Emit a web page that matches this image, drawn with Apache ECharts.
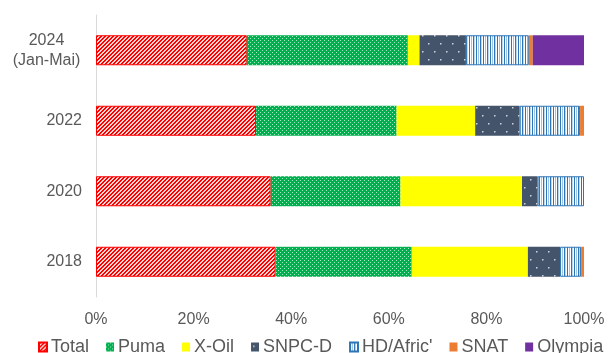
<!DOCTYPE html>
<html>
<head>
<meta charset="utf-8">
<script src="https://cdn.jsdelivr.net/npm/echarts@6/dist/echarts.min.js"></script>
<style>
  html, body { margin: 0; padding: 0; background: #fff; }
  #chart { width: 608px; height: 353px; }
</style>
</head>
<body>
<div id="chart"></div>
<script>
const years = ['2018', '2020', '2022', '2024'];
const seriesNames = ['Total', 'Puma', 'X-Oil', 'SNPC-D', "HD/Afric'", 'SNAT', 'Olympia'];
const total = [36.8, 35.8, 32.8, 30.9];
const puma = [27.9, 26.6, 28.8, 33.0];
const xoil = [23.8, 24.9, 16.1, 2.4];
const snpc = [6.6, 3.2, 9.1, 9.5];
const hdafric = [4.3, 9.5, 12.4, 12.9];
const snat = [0.6, 0, 0.8, 0.8];
const olympia = [0, 0, 0, 10.5];
const xTicks = [0, 20, 40, 60, 80, 100];

function makeTile(w, h, draw) {
  const c = document.createElement('canvas');
  c.width = w; c.height = h;
  const ctx = c.getContext('2d');
  draw(ctx);
  return { image: c, repeat: 'repeat' };
}

// red diagonal hatch
const hatchRed = makeTile(4, 4, ctx => {
  for (let x = 0; x < 4; x++) {
    for (let y = 0; y < 4; y++) {
      ctx.fillStyle = (x + y) % 4 < 2 ? '#ff0000' : '#ffd6d6';
      ctx.fillRect(x, y, 1, 1);
    }
  }
});
// green with light dots
const dotGreen = makeTile(4, 4, ctx => {
  ctx.fillStyle = '#00b050';
  ctx.fillRect(0, 0, 4, 4);
  ctx.fillStyle = '#a8e6c0';
  ctx.fillRect(0, 0, 1, 1);
  ctx.fillRect(2, 2, 1, 1);
});
// navy with sparse white dots
const dotNavy = makeTile(12, 16, ctx => {
  ctx.fillStyle = '#44546a';
  ctx.fillRect(0, 0, 12, 16);
  ctx.fillStyle = '#d0d6e0';
  ctx.fillRect(2, 3, 1.5, 1.5);
  ctx.fillRect(8, 11, 1.5, 1.5);
});
// vertical blue stripes
const stripeBlue = makeTile(7, 4, ctx => {
  const cols = ['#2e75b6', '#ffffff', '#9dc3e6', '#ffffff', '#2e75b6', '#bdd7ee', '#ffffff'];
  cols.forEach((col, i) => {
    ctx.fillStyle = col;
    ctx.fillRect(i, 0, 1, 4);
  });
});

const fills = [hatchRed, dotGreen, '#ffff00', dotNavy, stripeBlue, '#ed7d31', '#7030a0'];
const borders = ['#ff0000', null, null, null, '#2e75b6', null, null];
const values = [total, puma, xoil, snpc, hdafric, snat, olympia];

const chart = echarts.init(document.getElementById('chart'));
const option = {
  animation: false,
  grid: { left: 96, right: 24, top: 15, bottom: 56 },
  legend: {
    left: 33,
    top: 333,
    itemWidth: 8,
    itemHeight: 9,
    itemGap: 17,
    icon: 'rect',
    textStyle: { color: '#595959', fontSize: 18, fontFamily: 'Liberation Sans', padding: [0, 0, 0, -1] },
    data: seriesNames
  },
  xAxis: {
    type: 'value',
    min: 0,
    max: 100,
    interval: 20,
    axisLine: { show: false },
    axisTick: { show: false },
    splitLine: { show: false },
    axisLabel: {
      margin: 15,
      color: '#595959',
      fontSize: 16,
      fontFamily: 'Liberation Sans',
      formatter: v => xTicks.includes(v) ? v + '%' : ''
    }
  },
  yAxis: {
    type: 'category',
    data: years,
    axisLine: { show: true, lineStyle: { color: '#d9d9d9', width: 1 } },
    axisTick: { show: false },
    axisLabel: {
      margin: 14,
      color: '#595959',
      fontSize: 16,
      fontFamily: 'Liberation Sans',
      formatter: v => v === '2024' ? '{c|2024}\n{c|(Jan-Mai)}' : v,
      rich: {
        c: { width: 71, align: 'center', color: '#595959', fontSize: 16, fontFamily: 'Liberation Sans', lineHeight: 20 }
      }
    }
  },
  series: seriesNames.map((name, i) => ({
    name: name,
    type: 'bar',
    stack: 'share',
    barWidth: 30,
    data: values[i],
    itemStyle: {
      color: fills[i],
      borderColor: borders[i] || undefined,
      borderWidth: borders[i] ? 1 : 0
    }
  }))
};
chart.setOption(option);
</script>
</body>
</html>
